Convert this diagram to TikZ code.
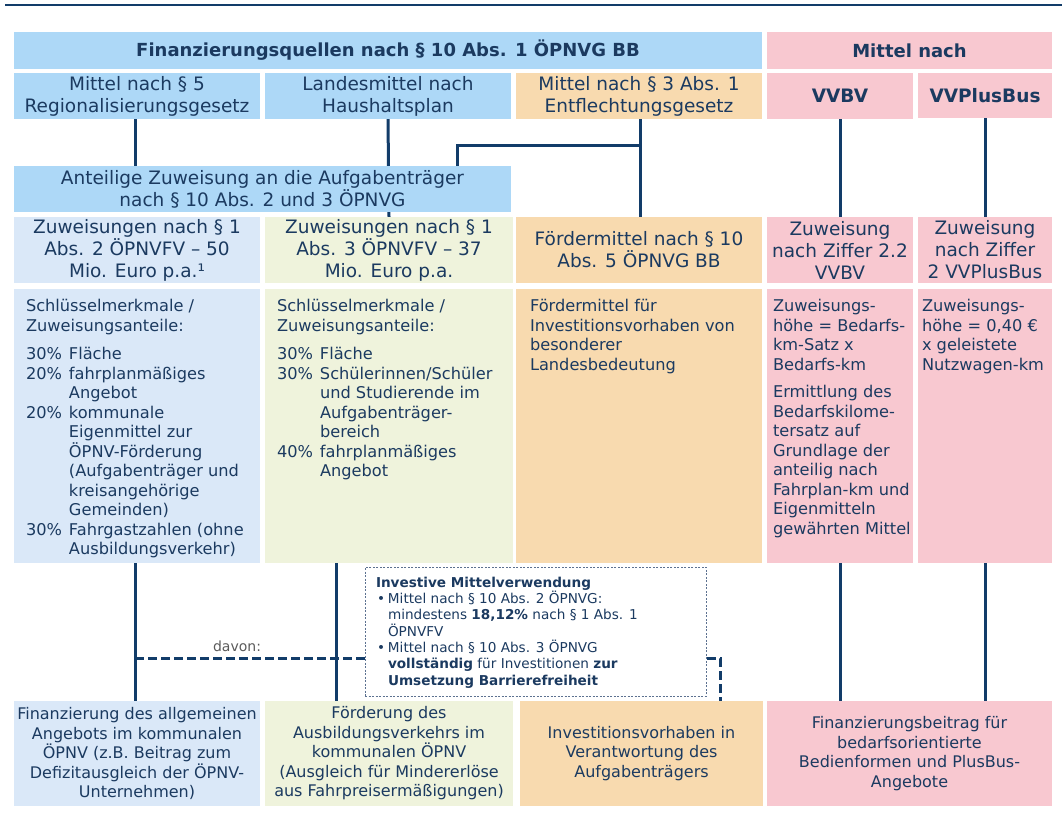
\documentclass[tikz,border=0pt]{standalone}
\usepackage{fontspec}
\setmainfont{DejaVu Sans}
\usetikzlibrary{backgrounds}
\definecolor{navy}{HTML}{123C69}
\definecolor{txt}{HTML}{1B3A60}
\definecolor{hblue}{HTML}{ADD8F7}
\definecolor{lblue}{HTML}{DAE8F8}
\definecolor{lgreen}{HTML}{EFF3DC}
\definecolor{orng}{HTML}{F8DAAF}
\definecolor{pnk}{HTML}{F8C8D0}
\definecolor{grayt}{HTML}{5A5A5A}
\definecolor{dbord}{HTML}{5C7190}
\newcommand\pc[1]{\makebox[43pt][l]{#1}}
\newcommand\bl{\makebox[12pt][l]{\hspace{1pt}•}}
\begin{document}
\begin{tikzpicture}[x=1pt,y=-1pt,
 cell/.style={anchor=north west, inner sep=0pt, outer sep=0pt, draw=none, text=txt, align=center},
 big/.style={font=\fontsize{18.5}{22}\selectfont},
 head/.style={font=\bfseries\fontsize{18}{21}\selectfont},
 headb/.style={font=\bfseries\fontsize{18.5}{21}\selectfont},
 foot/.style={font=\fontsize{16}{19.5}\selectfont},
 body/.style={anchor=north west, inner sep=0pt, outer sep=0pt, align=left, text=txt, font=\fontsize{16.2}{19.5}\selectfont},
 conn/.style={draw=navy, line width=3pt},
 dconn/.style={draw=navy, line width=3pt, dash pattern=on 9pt off 4pt},
]
\useasboundingbox (0,0) rectangle (1062,832);
\coordinate (r0) at (5,5);
\coordinate (r1) at (1062,5);
\draw[draw=navy, line width=2.5pt] (r0) -- (r1);

% header row
\node[cell, head, fill=hblue, minimum width=748pt, minimum height=37pt] (H1) at (14,32) {Finanzierungsquellen nach § 10 Abs. 1 ÖPNVG BB};
\node[cell, head, fill=pnk, minimum width=285pt, minimum height=37pt] (H2) at (767,32) {Mittel nach};

% row 2
\node[cell, big, fill=hblue, minimum width=246pt, minimum height=46pt] (R2a) at (14,73) {Mittel nach § 5\\Regionalisierungsgesetz};
\node[cell, big, fill=hblue, minimum width=246pt, minimum height=46pt] (R2b) at (265,73) {Landesmittel nach\\Haushaltsplan};
\node[cell, big, fill=orng, minimum width=246pt, minimum height=46pt] (R2c) at (516,73) {Mittel nach § 3 Abs. 1\\Entflechtungsgesetz};
\node[cell, headb, fill=pnk, minimum width=146pt, minimum height=46pt] (R2d) at (767,73) {VVBV};
\node[cell, headb, fill=pnk, minimum width=134pt, minimum height=45pt] (R2e) at (918,73) {VVPlusBus};

% Anteilige
\node[cell, big, fill=hblue, minimum width=497pt, minimum height=46pt] (A) at (14,166) {Anteilige Zuweisung an die Aufgabenträger\\nach § 10 Abs. 2 und 3 ÖPNVG};

% row 3
\node[cell, big, fill=lblue, minimum width=246pt, minimum height=66pt] (R3a) at (14,217) {Zuweisungen nach § 1\\Abs. 2 ÖPNVFV – 50\\Mio. Euro p.a.¹};
\node[cell, big, fill=lgreen, minimum width=248pt, minimum height=66pt] (R3b) at (265,217) {Zuweisungen nach § 1\\Abs. 3 ÖPNVFV – 37\\Mio. Euro p.a.};
\node[cell, big, fill=orng, minimum width=246pt, minimum height=66pt] (R3c) at (516,217) {Fördermittel nach § 10\\Abs. 5 ÖPNVG BB};
\node[cell, big, fill=pnk, minimum width=146pt, minimum height=66pt] (R3d) at (767,217) {Zuweisung\\nach Ziffer 2.2\\VVBV};
\node[cell, big, fill=pnk, minimum width=134pt, minimum height=66pt] (R3e) at (918,217) {Zuweisung\\nach Ziffer\\2 VVPlusBus};

% body boxes
\node[cell, fill=lblue, minimum width=246pt, minimum height=274pt] (B1) at (14,289) {};
\node[cell, fill=lgreen, minimum width=248pt, minimum height=274pt] (B2) at (265,289) {};
\node[cell, fill=orng, minimum width=246pt, minimum height=274pt] (B3) at (516,289) {};
\node[cell, fill=pnk, minimum width=146pt, minimum height=274pt] (B4) at (767,289) {};
\node[cell, fill=pnk, minimum width=134pt, minimum height=274pt] (B5) at (918,289) {};

\node[body] (T1) at (26,299.5) {Schlüsselmerkmale /\\Zuweisungsanteile:\\[9pt]
\pc{30\%}Fläche\\
\pc{20\%}fahrplanmäßiges\\
\pc{}Angebot\\
\pc{20\%}kommunale\\
\pc{}Eigenmittel zur\\
\pc{}ÖPNV-Förderung\\
\pc{}(Aufgabenträger und\\
\pc{}kreisangehörige\\
\pc{}Gemeinden)\\
\pc{30\%}Fahrgastzahlen (ohne\\
\pc{}Ausbildungsverkehr)};
\node[body] (T2) at (277,299.5) {Schlüsselmerkmale /\\Zuweisungsanteile:\\[9pt]
\pc{30\%}Fläche\\
\pc{30\%}Schülerinnen/Schüler\\
\pc{}und Studierende im\\
\pc{}Aufgabenträger-\\
\pc{}bereich\\
\pc{40\%}fahrplanmäßiges\\
\pc{}Angebot};
\node[body] (T3) at (530,299.5) {Fördermittel für\\Investitionsvorhaben von\\besonderer\\Landesbedeutung};
\node[body] (T4) at (773,299.5) {Zuweisungs-\\höhe = Bedarfs-\\km-Satz x\\Bedarfs-km\\[8pt]
Ermittlung des\\Bedarfskilome-\\tersatz auf\\Grundlage der\\anteilig nach\\Fahrplan-km und\\Eigenmitteln\\gewährten Mittel};
\node[body] (T5) at (922,299.5) {Zuweisungs-\\höhe = 0,40 €\\x geleistete\\Nutzwagen-km};

% bottom row
\node[cell, foot, fill=lblue, minimum width=246pt, minimum height=105pt] (F1) at (14,701) {Finanzierung des allgemeinen\\Angebots im kommunalen\\ÖPNV (z.B. Beitrag zum\\Defizitausgleich der ÖPNV-\\Unternehmen)};
\node[cell, foot, fill=lgreen, minimum width=248pt, minimum height=105pt] (F2) at (265,701) {Förderung des\\Ausbildungsverkehrs im\\kommunalen ÖPNV\\(Ausgleich für Mindererlöse\\aus Fahrpreisermäßigungen)};
\node[cell, foot, fill=orng, minimum width=243pt, minimum height=105pt] (F3) at (520,701) {Investitionsvorhaben in\\Verantwortung des\\Aufgabenträgers};
\node[cell, foot, fill=pnk, minimum width=285pt, minimum height=105pt] (F4) at (767,701) {Finanzierungsbeitrag für\\bedarfsorientierte\\Bedienformen und PlusBus-\\Angebote};

% dashed info box
\node[cell, fill=white, draw=dbord, line width=0.9pt, dash pattern=on 2pt off 1.5pt, minimum width=341pt, minimum height=129pt] (D) at (365,567) {};
\node[body, font=\fontsize{13.6}{16.3}\selectfont] (DT) at (376,577) {\textbf{Investive Mittelverwendung}\\
\bl Mittel nach § 10 Abs. 2 ÖPNVG:\\
\hspace*{12pt}mindestens \textbf{18,12\%} nach § 1 Abs. 1\\
\hspace*{12pt}ÖPNVFV\\
\bl Mittel nach § 10 Abs. 3 ÖPNVG\\
\hspace*{12pt}\textbf{vollständig} für Investitionen \textbf{zur}\\
\hspace*{12pt}\textbf{Umsetzung Barrierefreiheit}};

\node[text=grayt, font=\fontsize{14}{16}\selectfont, inner sep=0pt] (dv) at (237,646) {davon:};

\coordinate (jx) at (457,145);
\coordinate (jy) at (640,145);
\coordinate (c2) at (336,600);
\coordinate (d0) at (135,658);
\coordinate (d1) at (720,658);

\begin{pgfonlayer}{background}
\draw[conn] (R2a.south -| d0) -- (A.north -| d0);
\draw[conn] (R2b.south) -- (R3b.north);
\draw[conn] (R2c.south -| jy) -- (R3c.north -| jy);
\draw[conn] (A.north -| jx) -- (jx) -- (jy);
\draw[conn] (R2d.south) -- (R3d.north);
\draw[conn] (R2e.south) -- (R3e.north);
\draw[conn] (B1.south -| d0) -- (F1.north -| d0);
\draw[conn] (B2.south -| c2) -- (F2.north -| c2);
\draw[conn] (B4.south) -- (F4.north -| B4.south);
\draw[conn] (B5.south) -- (F4.north -| B5.south);
\draw[dconn] (d0) -- (d1) -- (F3.north -| d1);
\end{pgfonlayer}
\end{tikzpicture}
\end{document}
